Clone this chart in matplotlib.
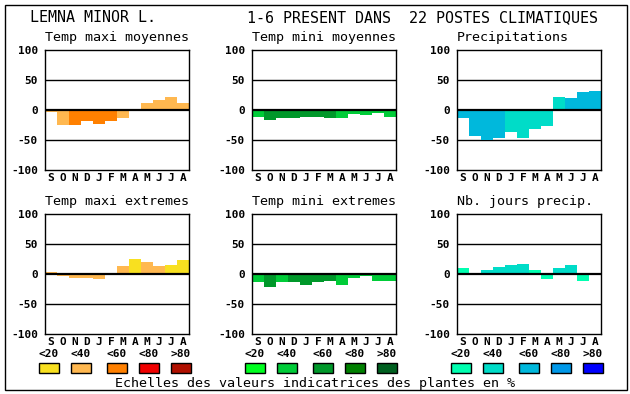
import matplotlib
matplotlib.use("Agg")
import matplotlib.pyplot as plt
from matplotlib.patches import Rectangle

W, H = 630, 394

months = ["S", "O", "N", "D", "J", "F", "M", "A", "M", "J", "J", "A"]
yticks = [100, 50, 0, -50, -100]
scale_labels = ["<20", "<40", "<60", "<80", ">80"]

main_title_left = "LEMNA MINOR L."
main_title_right = "1-6 PRESENT DANS  22 POSTES CLIMATIQUES"
footer = "Echelles des valeurs indicatrices des plantes en %"

titles = ["Temp maxi moyennes", "Temp mini moyennes", "Precipitations",
          "Temp maxi extremes", "Temp mini extremes", "Nb. jours precip."]

# values (%) per month, and colour class (0: <20 ... 4: >80)
tmax_moy = [-4, -25, -25, -18, -23, -18, -13, 2, 12, 17, 22, 12]
tmax_moy_cls = [1, 1, 2, 2, 2, 2, 1, 1, 1, 1, 1, 1]
tmin_moy = [-11, -16, -13, -14, -11, -11, -13, -14, -6, -8, -5, -11]
tmin_moy_cls = [1, 2, 2, 2, 2, 2, 2, 1, 1, 1, 1, 1]
precip = [-13, -44, -50, -46, -36, -46, -31, -26, 22, 20, 30, 32]
precip_cls = [2, 2, 2, 2, 1, 1, 1, 1, 1, 2, 2, 2]
tmax_ext = [3, -4, -6, -6, -8, 0, 13, 25, 20, 13, 15, 23]
tmax_ext_cls = [1, 1, 1, 1, 1, 1, 1, 0, 1, 1, 0, 0]
tmin_ext = [-13, -21, -13, -14, -18, -14, -11, -18, -6, -4, -11, -11]
tmin_ext_cls = [1, 2, 1, 2, 2, 2, 2, 1, 1, 1, 1, 1]
jours = [10, -2, 7, 12, 15, 17, 7, -8, 10, 15, -11, -2]
jours_cls = [0, 1, 1, 1, 1, 1, 0, 0, 1, 1, 0, 1]

orange = ["#f8e020", "#ffb850", "#ff8000", "#f00000", "#b01000"]
green = ["#00ff20", "#00cc38", "#00982a", "#008000", "#006020"]
blue = ["#00ffb0", "#00dcc8", "#00b8dc", "#0098e8", "#0000ff"]

panels = [
    (tmax_moy, tmax_moy_cls, orange),
    (tmin_moy, tmin_moy_cls, green),
    (precip, precip_cls, blue),
    (tmax_ext, tmax_ext_cls, orange),
    (tmin_ext, tmin_ext_cls, green),
    (jours, jours_cls, blue),
]

col_x = [45, 252, 457]
row_y = [50, 214]
aw, ah = 144, 120

mono = "DejaVu Sans Mono"

fig = plt.figure(figsize=(W / 100, H / 100), dpi=100)
fig.patch.set_facecolor("white")

def fx(x):
    return x / W

def fy(y):
    return 1 - y / H

# outer frame
fig.add_artist(Rectangle((fx(5), fy(390)), fx(622), (385) / H, transform=fig.transFigure,
                         fill=False, edgecolor="black", linewidth=1.0))

fig.text(fx(30), fy(18), main_title_left, fontfamily=mono, fontsize=10.8,
         ha="left", va="center")
fig.text(fx(247), fy(18), main_title_right, fontfamily=mono, fontsize=10.8,
         ha="left", va="center")

for i, (vals, cls, pal) in enumerate(panels):
    r, c = divmod(i, 3)
    x0, y0 = col_x[c], row_y[r]
    ax = fig.add_axes([fx(x0), fy(y0 + ah), aw / W, ah / H])
    xs = list(range(len(months)))
    ax.bar(xs, vals, width=1.0, color=[pal[k] for k in cls], linewidth=0, zorder=2)
    for g in (50, -50):
        ax.axhline(g, color="black", linewidth=1.0, zorder=1)
    ax.axhline(0, color="black", linewidth=1.6, zorder=3)
    ax.set_xlim(-0.5, 11.5)
    ax.set_ylim(-100, 100)
    ax.set_xticks(xs)
    ax.set_xticklabels(months, fontfamily=mono, fontweight="bold", fontsize=8)
    ax.set_yticks(yticks)
    ax.set_yticklabels([str(t) for t in yticks], fontfamily=mono, fontweight="bold", fontsize=8)
    ax.tick_params(length=0, pad=2, axis="x")
    ax.tick_params(length=0, pad=5, axis="y")
    for s in ax.spines.values():
        s.set_linewidth(1.0)
    fig.text(fx(x0), fy(y0 - 12), titles[i], fontfamily=mono, fontsize=9.6,
             ha="left", va="center")

# legends
box_x = [[39, 71, 107, 139, 171], [245, 277, 313, 345, 377], [451, 483, 519, 551, 583]]
pals = [orange, green, blue]
for c in range(3):
    for k in range(5):
        bx = box_x[c][k]
        fig.text(fx(bx + 10), fy(354), scale_labels[k], fontfamily=mono,
                 fontweight="bold", fontsize=8, ha="center", va="center")
        fig.add_artist(Rectangle((fx(bx), fy(373)), 20 / W, 10 / H,
                                 transform=fig.transFigure, facecolor=pals[c][k],
                                 edgecolor="black", linewidth=1.0))

fig.text(fx(115), fy(383), footer, fontfamily=mono, fontsize=9.6, ha="left", va="center")

fig.savefig("out.png", dpi=100)
